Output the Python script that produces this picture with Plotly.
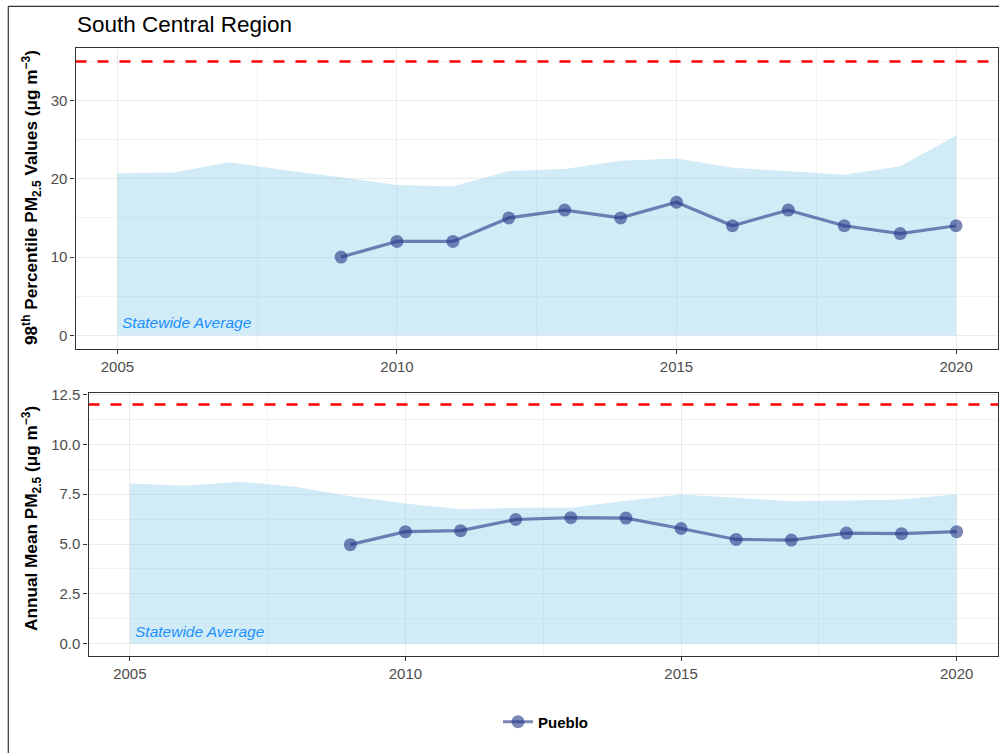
import plotly.graph_objects as go

W, H = 999, 753

years_state = [2005, 2006, 2007, 2008, 2009, 2010, 2011, 2012, 2013, 2014, 2015, 2016, 2017, 2018, 2019, 2020]
state_p98 = [20.7, 20.8, 22.1, 21.1, 20.2, 19.2, 19.0, 21.0, 21.25, 22.3, 22.6, 21.4, 20.95, 20.5, 21.6, 25.5]
state_mean = [8.03, 7.92, 8.13, 7.87, 7.4, 7.03, 6.75, 6.82, 6.82, 7.17, 7.48, 7.33, 7.15, 7.18, 7.23, 7.5]

years_site = [2009, 2010, 2011, 2012, 2013, 2014, 2015, 2016, 2017, 2018, 2019, 2020]
pueblo_p98 = [10, 12, 12, 15, 16, 15, 17, 14, 16, 14, 13, 14]
pueblo_mean = [4.97, 5.62, 5.67, 6.23, 6.32, 6.3, 5.78, 5.23, 5.2, 5.55, 5.52, 5.62]

site_name = "Pueblo"
std_p98 = 35
std_mean = 12
x_ticks = [2005, 2010, 2015, 2020]

FILL = "rgba(135,206,235,0.38)"
LINEC = "rgba(35,55,135,0.6)"
FONT = "Liberation Sans, Arial, sans-serif"

fig = go.Figure()

# top panel
fig.add_trace(go.Scatter(x=years_state, y=state_p98, fill="tozeroy", mode="lines",
                         line=dict(width=0), fillcolor=FILL, showlegend=False,
                         xaxis="x", yaxis="y", hoverinfo="skip"))
fig.add_trace(go.Scatter(x=years_site, y=pueblo_p98, mode="lines+markers",
                         line=dict(color=LINEC, width=3.2), marker=dict(color=LINEC, size=13),
                         name="<b>" + site_name + "</b>", showlegend=True, xaxis="x", yaxis="y"))
# bottom panel
fig.add_trace(go.Scatter(x=years_state, y=state_mean, fill="tozeroy", mode="lines",
                         line=dict(width=0), fillcolor=FILL, showlegend=False,
                         xaxis="x2", yaxis="y2", hoverinfo="skip"))
fig.add_trace(go.Scatter(x=years_site, y=pueblo_mean, mode="lines+markers",
                         line=dict(color=LINEC, width=3.2), marker=dict(color=LINEC, size=13),
                         name=site_name, showlegend=False, xaxis="x2", yaxis="y2"))

# standard lines
fig.add_trace(go.Scatter(x=[2004.25, 2020.75], y=[std_p98, std_p98], mode="lines",
                         line=dict(color="#ff0000", width=2.5, dash="11px,11px"),
                         showlegend=False, xaxis="x", yaxis="y", hoverinfo="skip"))
fig.add_trace(go.Scatter(x=[2004.25, 2020.75], y=[std_mean, std_mean], mode="lines",
                         line=dict(color="#ff0000", width=2.5, dash="11px,11px"),
                         showlegend=False, xaxis="x2", yaxis="y2", hoverinfo="skip"))

def px_x(p):
    return p / W

def px_y(p):
    return 1 - p / H

common_ax = dict(showline=True, linecolor="#333333", linewidth=1.2, mirror=True,
                 ticks="outside", ticklen=4, tickcolor="#333333", tickwidth=1,
                 tickfont=dict(family=FONT, size=15, color="#4d4d4d"),
                 showgrid=True, gridcolor="#ebebeb", gridwidth=1.2, zeroline=False,
                 automargin=False,
                 minor=dict(showgrid=True, gridcolor="#f2f2f2", gridwidth=0.8))

fig.update_layout(
    width=W, height=H,
    margin=dict(l=0, r=0, t=0, b=0, pad=0, autoexpand=False),
    paper_bgcolor="white", plot_bgcolor="white",
    font=dict(family=FONT),
    xaxis=dict(domain=[px_x(75.5), px_x(998)], range=[2004.25, 2020.75],
               tickvals=x_ticks, anchor="y", **common_ax),
    yaxis=dict(domain=[px_y(349), px_y(47.7)], range=[-1.75, 36.75],
               tickvals=[0, 10, 20, 30], anchor="x", **common_ax),
    xaxis2=dict(domain=[px_x(88.5), px_x(998)], range=[2004.25, 2020.75],
                tickvals=x_ticks, anchor="y2", **common_ax),
    yaxis2=dict(domain=[px_y(655.7), px_y(392.5)], range=[-0.6, 12.6],
                tickvals=[0, 2.5, 5, 7.5, 10, 12.5], tickformat=".1f", anchor="x2", **common_ax),
    legend=dict(orientation="h", x=px_x(546), xanchor="center", y=px_y(722), yanchor="middle",
                font=dict(family=FONT, size=15, color="black"), bgcolor="rgba(0,0,0,0)"),
    showlegend=True,
)
fig.update_xaxes(minor=dict(tickvals=[2007.5, 2012.5, 2017.5]))
fig.update_layout(yaxis_minor=dict(tickvals=[5, 15, 25, 35]))
fig.update_layout(yaxis2_minor=dict(tickvals=[1.25, 3.75, 6.25, 8.75, 11.25]))

annotations = [
    dict(text="South Central Region", x=px_x(75), y=px_y(25), xref="paper", yref="paper",
         xanchor="left", yanchor="middle", showarrow=False,
         font=dict(family=FONT, size=22.5, color="black")),
    dict(text="<b>98<sup>th</sup> Percentile PM<sub>2.5</sub> Values (μg m<sup>−3</sup>)</b>",
         x=px_x(31), y=px_y(198), xref="paper", yref="paper", textangle=-90,
         xanchor="center", yanchor="middle", showarrow=False,
         font=dict(family=FONT, size=17.2, color="black")),
    dict(text="<b>Annual Mean PM<sub>2.5</sub> (μg m<sup>−3</sup>)</b>",
         x=px_x(31), y=px_y(519), xref="paper", yref="paper", textangle=-90,
         xanchor="center", yanchor="middle", showarrow=False,
         font=dict(family=FONT, size=17.2, color="black")),
    dict(text="<i>Statewide Average</i>", x=2005.05, y=1.7, xref="x", yref="y",
         xanchor="left", yanchor="middle", showarrow=False,
         font=dict(family=FONT, size=15.5, color="#1e90ff")),
    dict(text="<i>Statewide Average</i>", x=2005.05, y=0.6, xref="x2", yref="y2",
         xanchor="left", yanchor="middle", showarrow=False,
         font=dict(family=FONT, size=15.5, color="#1e90ff")),
]
fig.update_layout(annotations=annotations)

fig.add_shape(type="line", xref="paper", yref="paper", x0=px_x(8.3), x1=1.01,
              y0=px_y(6.3), y1=px_y(6.3), line=dict(color="#333333", width=1.2))
fig.add_shape(type="line", xref="paper", yref="paper", x0=px_x(8.3), x1=px_x(8.3),
              y0=px_y(6.3), y1=-0.01, line=dict(color="#333333", width=1.2))

fig.write_html("out.html", config={"displayModeBar": False},
               post_script="document.body.style.margin='0';document.body.style.padding='0';document.body.style.overflow='hidden';")
